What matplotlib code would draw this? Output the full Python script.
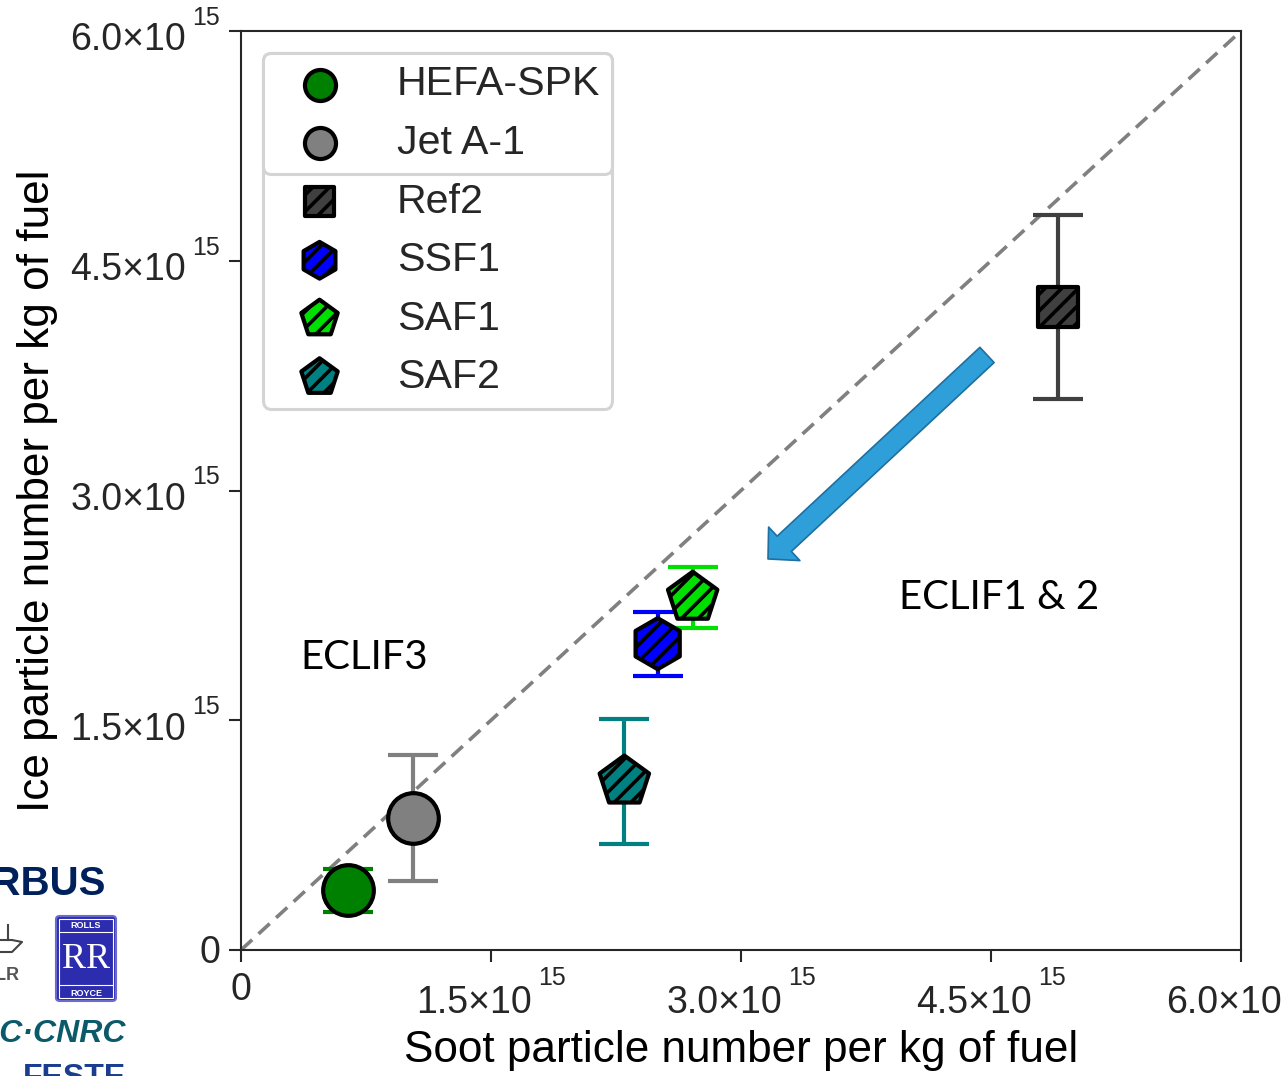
import matplotlib
matplotlib.use("Agg")
import matplotlib.pyplot as plt
from matplotlib.patches import FancyArrowPatch, FancyBboxPatch, Rectangle
from matplotlib.legend_handler import HandlerPathCollection
from matplotlib.lines import Line2D
from matplotlib.ticker import FixedLocator, NullFormatter

plt.rcParams['font.family'] = ['Liberation Sans', 'DejaVu Sans']
plt.rcParams['mathtext.default'] = 'regular'
plt.rcParams['hatch.linewidth'] = 2.6
plt.rcParams['hatch.color'] = 'black'

# ---------------- data ----------------
fuels = ["HEFA-SPK", "Jet A-1", "Ref2", "SSF1", "SAF1", "SAF2"]
soot = [0.64e15, 1.03e15, 4.90e15, 2.50e15, 2.71e15, 2.30e15]
ice = [0.39e15, 0.86e15, 4.20e15, 2.00e15, 2.30e15, 1.10e15]
ice_err = [0.14e15, 0.41e15, 0.60e15, 0.21e15, 0.20e15, 0.41e15]
face_colors = ["#008000", "#808080", "#404040", "#0000ff", "#00e000", "#008080"]
err_colors = ["#008000", "#808080", "#404040", "#0000ff", "#00e000", "#008080"]
markers = ["o", "o", "s", "h", "p", "p"]
hatches = [None, None, "//", "//", "//", "//"]
plot_sizes = [1330, 1330, 830, 1350, 1400, 1400]
legend_sizes = [500, 500, 440, 700, 760, 760]

ticks = [0, 1.5e15, 3.0e15, 4.5e15, 6.0e15]
tick_exponent = 15
axis_limits = (0, 6.0e15)
arrow_tail = (4.476e15, 3.885e15)
arrow_tip = (3.162e15, 2.553e15)
eclif12_pos = (4.55e15, 2.30e15)
eclif3_pos = (0.74e15, 1.91e15)

# ---------------- figure ----------------
W, H = 1284, 1076
PX = 72 / 100  # pixels -> points
fig = plt.figure(figsize=(W / 100, H / 100), dpi=100)
ax = fig.add_axes([241 / W, (H - 950) / H, 1000 / W, 919 / H])

ax.set_xlim(*axis_limits)
ax.set_ylim(*axis_limits)

# diagonal 1:1 line
ax.plot(axis_limits, axis_limits, color="#808080", lw=2.6,
        linestyle=(0, (4.2, 2.4)), zorder=1)

handles = []
for i in range(len(fuels)):
    ax.errorbar(soot[i], ice[i], yerr=ice_err[i], fmt="none",
                ecolor=err_colors[i], elinewidth=3, capsize=18, capthick=3,
                zorder=2)
    sc = ax.scatter([soot[i]], [ice[i]], s=plot_sizes[i], marker=markers[i],
                    c=face_colors[i], edgecolors="black", linewidths=3,
                    hatch=hatches[i], label=fuels[i], zorder=3)
    handles.append(sc)

# arrow
arr = FancyArrowPatch(posA=arrow_tail, posB=arrow_tip,
                      arrowstyle="simple,head_length=1.6,head_width=3.3,tail_width=1.5",
                      mutation_scale=10, shrinkA=0, shrinkB=0,
                      facecolor="#2e9fd9", edgecolor="#1f6fa0", lw=1.2, zorder=4)
ax.add_patch(arr)

ax.text(*eclif12_pos, "ECLIF1 & 2", fontsize=29, family=["Lato", "DejaVu Sans"],
        ha="center", va="center", color="black")
ax.text(*eclif3_pos, "ECLIF3", fontsize=29, family=["Lato", "DejaVu Sans"],
        ha="center", va="center", color="black")

# ticks
ax.xaxis.set_major_locator(FixedLocator(ticks))
ax.yaxis.set_major_locator(FixedLocator(ticks))
ax.xaxis.set_major_formatter(NullFormatter())
ax.yaxis.set_major_formatter(NullFormatter())
ax.tick_params(axis="both", direction="out", length=8.5, width=1.5,
               colors="#262626", labelbottom=False, labelleft=False)
for sp in ax.spines.values():
    sp.set_linewidth(1.5)
    sp.set_color("#262626")

# tick labels "m.m×10" with a raised exponent, drawn at tick positions
renderer = fig.canvas.get_renderer()
TL = dict(fontsize=27, color="#262626", textcoords="offset points",
          annotation_clip=False)
SL = dict(fontsize=18, color="#262626", textcoords="offset points",
          annotation_clip=False)
for t in ticks:
    xy_x = dict(xy=(t, 0), xycoords=("data", "axes fraction"))
    xy_y = dict(xy=(0, t), xycoords=("axes fraction", "data"))
    if t == 0:
        ax.annotate("0", xytext=(0, -50 * PX), ha="center", va="baseline", **xy_x, **TL)
        ax.annotate("0", xytext=(-21 * PX, -13 * PX), ha="right", va="baseline", **xy_y, **TL)
        continue
    mant = f"{t / 10 ** tick_exponent:.1f}×10"
    expo = f"{tick_exponent}"
    # x axis
    m = ax.annotate(mant, xytext=(0, -63 * PX), ha="left", va="baseline", **xy_x, **TL)
    s = ax.annotate(expo, xytext=(0, -35 * PX), ha="left", va="baseline", **xy_x, **SL)
    wm = m.get_window_extent(renderer).width
    ws = s.get_window_extent(renderer).width
    left = -(wm + 6 + ws) / 2
    m.xyann = (left * PX, -63 * PX)
    s.xyann = ((left + wm + 6) * PX, -35 * PX)
    # y axis
    m2 = ax.annotate(mant, xytext=(0, -19.5 * PX), ha="right", va="baseline", **xy_y, **TL)
    s2 = ax.annotate(expo, xytext=(-21 * PX, 6 * PX), ha="right", va="baseline", **xy_y, **SL)
    m2.xyann = ((-21 - ws - 6) * PX, -19.5 * PX)

# axis labels
ax.set_xlabel("Soot particle number per kg of fuel", fontsize=31.8, color="black")
ax.xaxis.label.set_va("baseline")
ax.xaxis.set_label_coords(0.5, -(1062 - 950) / 919)
ax.set_ylabel("Ice particle number per kg of fuel", fontsize=31.8, color="black")
ax.yaxis.set_label_coords(-(241 - 58) / 1000, 0.5)

# legends
hmap = {h: HandlerPathCollection(sizes=[legend_sizes[i]]) for i, h in enumerate(handles)}
leg_kw = dict(loc="upper left", bbox_to_anchor=(0.022, 0.976), fontsize=29.6,
              handlelength=2.15, handletextpad=0.8, labelspacing=0.5,
              borderpad=0.3, borderaxespad=0, frameon=True, fancybox=True,
              edgecolor="#d4d4d4", framealpha=1, scatterpoints=1)
leg_all = ax.legend(handles=handles, labels=fuels, handler_map=hmap, **leg_kw)
leg_all.get_frame().set_linewidth(2.2)
for t in leg_all.get_texts():
    t.set_color("#262626")
leg_all.set_zorder(6)
ax.add_artist(leg_all)
leg_top = ax.legend(handles=handles[:2], labels=fuels[:2], handler_map=hmap, **leg_kw)
leg_top.get_frame().set_linewidth(2.2)
for t in leg_top.get_texts():
    t.set_color("#262626")
leg_top.set_zorder(7)

# ---------------- partner logos (bottom-left, cropped) ----------------
fig.text(105 / W, 1 - 884 / H, "AIRBUS", fontsize=29, fontweight="bold",
         color="#00205b", ha="right", va="center")
# DLR
fig.text(20 / W, 1 - 975 / H, "DLR", fontsize=13, fontweight="bold",
         color="#555555", ha="right", va="center")
fig.add_artist(Line2D([0 / W, 12 / W, 22 / W, 12 / W, 0 / W],
                      [1 - 940 / H, 1 - 940 / H, 1 - 942 / H, 1 - 952 / H, 1 - 952 / H],
                      transform=fig.transFigure, color="#444444", lw=1.5))
fig.add_artist(Line2D([8 / W, 8 / W], [1 - 925 / H, 1 - 940 / H],
                      transform=fig.transFigure, color="#444444", lw=1.5))
# Rolls-Royce badge
fig.add_artist(FancyBboxPatch((56 / W, 1 - 1001 / H), 60 / W, 85 / H,
                              boxstyle="round,pad=0,rounding_size=0.003",
                              transform=fig.transFigure, facecolor="#2c2cae",
                              edgecolor="#6a6ad0", lw=1.5))
fig.add_artist(Rectangle((59 / W, 1 - 998 / H), 54 / W, 79 / H,
                         transform=fig.transFigure, facecolor="none",
                         edgecolor="white", lw=0.8))
for yy in (932, 985):
    fig.add_artist(Line2D([59 / W, 113 / W], [1 - yy / H, 1 - yy / H],
                          transform=fig.transFigure, color="white", lw=0.8))
fig.text(86 / W, 1 - 925 / H, "ROLLS", fontsize=6.5, fontweight="bold",
         color="white", ha="center", va="center")
fig.text(86 / W, 1 - 959 / H, "RR", fontsize=26, family=["Liberation Serif"],
         color="white", ha="center", va="center")
fig.text(86 / W, 1 - 994 / H, "ROYCE", fontsize=6.5, fontweight="bold",
         color="white", ha="center", va="center")
# NRC-CNRC
fig.text(126 / W, 1 - 1034 / H, "NRC·CNRC", fontsize=23, fontweight="bold",
         style="italic", color="#0b5a6a", ha="right", va="center")
fig.text(126 / W, 1 - 1078 / H, "FESTE", fontsize=23, fontweight="bold",
         color="#1a3d8f", ha="right", va="center")

fig.savefig("out.png", dpi=100, facecolor="white")
